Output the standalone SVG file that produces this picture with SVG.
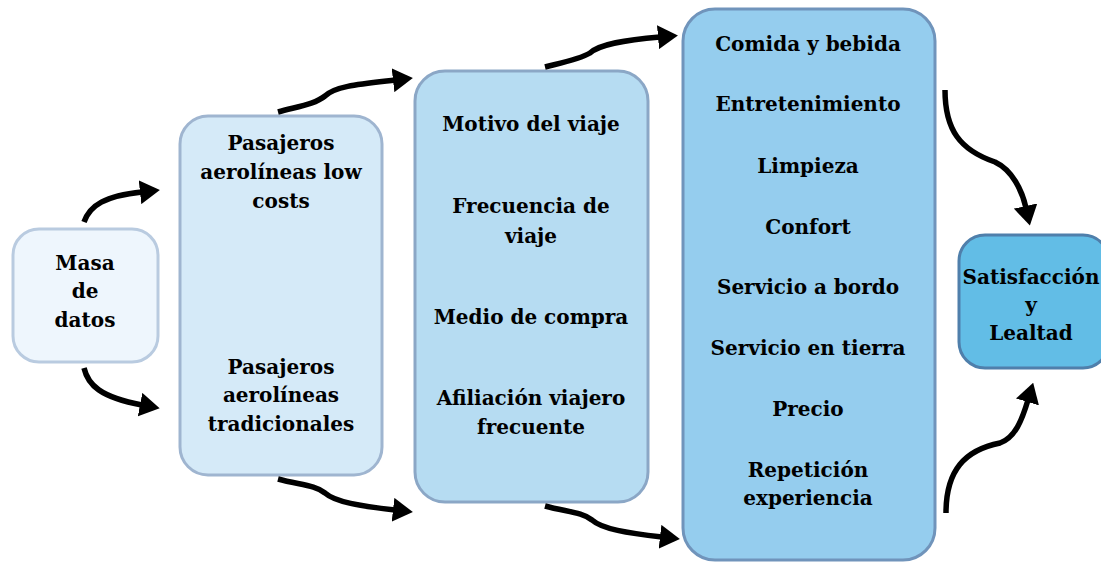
<svg xmlns="http://www.w3.org/2000/svg" width="1101" height="563" viewBox="0 0 1101 563">
<defs>
<style>
.t{font-family:"DejaVu Serif","Liberation Serif",serif;font-weight:bold;font-size:20px;fill:#000;text-anchor:middle}
.c{fill:none;stroke:#000;stroke-width:5.5;stroke-linecap:butt}
</style>
<marker id="ah" markerUnits="userSpaceOnUse" markerWidth="20" markerHeight="24" refX="2" refY="12" orient="auto" viewBox="0 0 20 24">
<path d="M0,0 L20,12 L0,24 z" fill="#000"/>
</marker>
</defs>
<rect width="1101" height="563" fill="#fff"/>
<g id="n1">
<rect x="13" y="229" width="145" height="133" rx="26" fill="#eef6fd" stroke="#b9cbe0" stroke-width="3"/>
<text class="t" x="85" y="270">Masa</text>
<text class="t" x="85" y="298">de</text>
<text class="t" x="85" y="327">datos</text>
</g>
<g id="n2">
<rect x="180" y="116" width="202" height="359" rx="28" fill="#d5eaf8" stroke="#9fb5d0" stroke-width="3"/>
<text class="t" x="281" y="150">Pasajeros</text>
<text class="t" x="281" y="179">aerolíneas low</text>
<text class="t" x="281" y="208">costs</text>
<text class="t" x="281" y="374">Pasajeros</text>
<text class="t" x="281" y="402">aerolíneas</text>
<text class="t" x="281" y="431">tradicionales</text>
</g>
<g id="n3">
<rect x="415" y="71" width="233" height="431" rx="30" fill="#b6dcf2" stroke="#8ba7c6" stroke-width="3"/>
<text class="t" x="531" y="131">Motivo del viaje</text>
<text class="t" x="531" y="213">Frecuencia de</text>
<text class="t" x="531" y="243">viaje</text>
<text class="t" x="531" y="324">Medio de compra</text>
<text class="t" x="531" y="405">Afiliación viajero</text>
<text class="t" x="531" y="434">frecuente</text>
</g>
<g id="n4">
<rect x="683" y="9" width="252" height="551" rx="32" fill="#95cdee" stroke="#7094bb" stroke-width="3"/>
<text class="t" x="808" y="51">Comida y bebida</text>
<text class="t" x="808" y="111">Entretenimiento</text>
<text class="t" x="808" y="173">Limpieza</text>
<text class="t" x="808" y="234">Confort</text>
<text class="t" x="808" y="294">Servicio a bordo</text>
<text class="t" x="808" y="355">Servicio en tierra</text>
<text class="t" x="808" y="416">Precio</text>
<text class="t" x="808" y="477">Repetición</text>
<text class="t" x="808" y="505">experiencia</text>
</g>
<g id="n5">
<rect x="959" y="235" width="150" height="133" rx="26" fill="#62bde6" stroke="#4f7fab" stroke-width="3"/>
<text class="t" x="1031" y="284">Satisfacción</text>
<text class="t" x="1031" y="312">y</text>
<text class="t" x="1031" y="340">Lealtad</text>
</g>
<g id="connectors">
<path class="c" marker-end="url(#ah)" d="M84,222 C90,205 105,196 142,192"/>
<path class="c" marker-end="url(#ah)" d="M84,368 C88,385 100,397 142,405"/>
<path class="c" marker-end="url(#ah)" d="M278,112 C300,106 315,104 325,96 C335,86 360,84 395,80"/>
<path class="c" marker-end="url(#ah)" d="M545,67 C565,62 580,59 590,53 C600,44 625,40 660,37"/>
<path class="c" marker-end="url(#ah)" d="M278,479 C300,485 315,485 325,493 C335,502 360,506 395,510"/>
<path class="c" marker-end="url(#ah)" d="M545,506 C567,512 582,512 592,520 C602,529 627,533 662,537"/>
<path class="c" marker-end="url(#ah)" d="M945,90 C945,130 960,150 995,162 C1012,170 1022,190 1026,208"/>
<path class="c" marker-end="url(#ah)" d="M946,513 C946,470 965,450 1000,443 C1015,438 1022,420 1028,400"/>
</g>
</svg>
